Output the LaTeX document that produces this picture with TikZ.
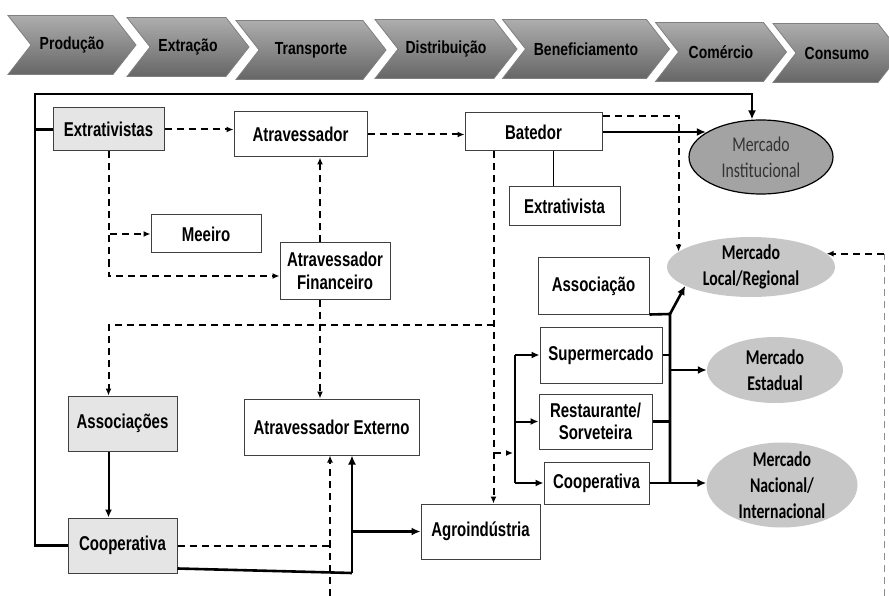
\documentclass[tikz,border=0pt]{standalone}
\usepackage{fontspec}
\setmainfont{Liberation Sans}[FakeStretch=0.75]
\newfontfamily\stagefont{Liberation Sans}[FakeStretch=0.8]
\newfontfamily\ellfont{Carlito}[FakeStretch=0.75]
\usepackage{tikz}
\usetikzlibrary{shapes.geometric,shapes.symbols,arrows.meta}

\begin{document}
\begin{tikzpicture}[
    x=1pt, y=-1pt,
    >={Latex[length=9pt,width=8pt]},
    stagebox/.style={signal, signal to=east, signal from=west, signal pointer angle=104,
      draw=black!50, line width=0.8pt, top color=black!32, bottom color=black!60,
      minimum height=59pt, inner sep=0pt, font=\stagefont\bfseries\fontsize{17.5}{19}\selectfont},
    box/.style={draw=black!75, line width=1pt, fill=white, inner sep=0pt, align=center,
      font=\bfseries\fontsize{20}{22.5}\selectfont},
    greybox/.style={box, fill=gray!20},
    mkt/.style={ellipse, fill=black!22, inner sep=0pt},
    instmkt/.style={ellipse, draw=black, line width=1.2pt, fill=black!36, inner sep=0pt},
    mkttext/.style={align=center, font=\ellfont\bfseries\fontsize{21}{26}\selectfont},
    insttext/.style={align=center, text=black!80, font=\ellfont\fontsize{21}{26}\selectfont},
    mainline/.style={line width=2.6pt},
    midline/.style={line width=2pt, >={Latex[length=8pt,width=7pt]}},
    thinline/.style={line width=1pt},
    dashline/.style={line width=2pt, dash pattern=on 7pt off 5pt, >={Latex[length=7pt,width=6pt]}},
  ]
  \useasboundingbox (0,0) rectangle (889,596);
  \clip (0,0) rectangle (889,596);

  \node[stagebox, minimum width=128pt] (prod) at (72,45) {Produção};
  \node[stagebox, minimum width=122pt] (extrac) at (188,47) {Extração};
  \node[stagebox, minimum width=150pt] (transp) at (311,50) {Transporte};
  \node[stagebox, minimum width=142pt] (distr) at (446,49) {Distribuição};
  \node[stagebox, minimum width=167pt] (benef) at (586,49) {Beneficiamento};
  \node[stagebox, minimum width=131pt] (comerc) at (721,52) {Comércio};
  \node[stagebox, minimum width=128pt] (consumo) at (837,53) {Consumo};

  \node[greybox, minimum width=111pt, minimum height=43pt] (extr) at (108.5,129.5) {Extrativistas};
  \node[box, minimum width=133pt, minimum height=45pt] (atrav) at (300.5,134.5) {Atravessador};
  \node[box, minimum width=110pt, minimum height=38pt] (meeiro) at (206,234) {Meeiro};
  \node[box, minimum width=110pt, minimum height=56pt] (atrfin) at (335,271) {Atravessador\\Financeiro};
  \node[box, minimum width=137pt, minimum height=38pt] (batedor) at (533.5,132) {Batedor};
  \node[box, minimum width=111pt, minimum height=39pt] (extrta) at (564.5,206.5) {Extrativista};
  \node[greybox, minimum width=109pt, minimum height=55pt] (assocs) at (122.5,423.5) {Associações};
  \node[greybox, minimum width=109pt, minimum height=55pt] (coopl) at (122.5,545.5) {Cooperativa};
  \node[box, minimum width=175pt, minimum height=56pt] (atrext) at (331.5,427) {Atravessador Externo};
  \node[box, minimum width=119pt, minimum height=55pt] (agro) at (480.5,531.5) {Agroindústria};
  \node[box, minimum width=111pt, minimum height=56pt] (assoc) at (593.5,286) {Associação};
  \node[box, minimum width=122pt, minimum height=56pt] (super) at (601,355) {Supermercado};
  \node[box, minimum width=113pt, minimum height=55pt] (rest) at (595.5,421.5) {Restaurante/\\Sorveteira};
  \node[box, minimum width=105pt, minimum height=42pt] (coopr) at (596.5,483) {Cooperativa};

  \node[instmkt, minimum width=144pt, minimum height=74pt,
    label={[insttext]center:{Mercado\\Institucional}}] (merinst) at (761,157) {};
  \node[mkt, minimum width=168pt, minimum height=60pt,
    label={[mkttext]center:{Mercado\\Local/Regional}}] (merloc) at (751,267) {};
  \node[mkt, minimum width=136pt, minimum height=66pt,
    label={[mkttext]center:{Mercado\\Estadual}}] (merest) at (775,370) {};
  \node[mkt, minimum width=151pt, minimum height=85pt,
    label={[mkttext]center:{Mercado\\Nacional/\\Internacional}}] (mernac) at (782,485) {};

  \coordinate (tl) at (35,94);
  \draw[mainline] (extr.west) -- (extr.west -| tl);
  \draw[mainline,->] (coopl.west) -| (tl) -| ([xshift=-9pt]merinst.north);

  \draw[dashline,->] (extr.east) -- (extr.east -| atrav.west);
  \draw[dashline,->] (extr.south) |- (meeiro.west);
  \draw[dashline,->] (extr.south) |- ([yshift=-5pt]atrfin.west);
  \draw[dashline,->] ([xshift=-15pt]atrfin.north) -- ([xshift=-15pt]atrfin.north |- atrav.south);
  \draw[dashline,->] ([xshift=-15pt]atrfin.south) -- ([xshift=-15pt]atrfin.south |- atrext.north);
  \draw[dashline,->] (atrav.east) -- (atrav.east -| batedor.west);
  \draw[mainline,->] (batedor.east) -- (batedor.east -| merinst.156);
  \draw[dashline,->] ([yshift=-4pt]batedor.north east) -| (merloc.168);
  \draw[thinline] ([xshift=20pt]batedor.south) -- ([xshift=20pt]batedor.south |- extrta.north);

  \coordinate (bd) at ([xshift=-40pt]batedor.south);
  \coordinate (dashrow) at (0,325);
  \draw[dashline,->] (bd) -- (bd |- agro.north);
  \draw[dashline,->] (bd |- dashrow) -- (extr.south |- dashrow) -- (extr.south |- assocs.north);
  \draw[midline,->] (extr.south |- assocs.south) -- (extr.south |- coopl.north);

  \coordinate (brk) at (515,453);
  \draw[dashline,->] (bd |- brk) -- ([xshift=-2pt]brk);
  \draw[midline] (brk |- super.west) -- (brk |- coopr.west);
  \foreach \n in {super,rest,coopr}
    \draw[midline,->] (brk |- \n.west) -- (\n.west);

  \coordinate (col) at (670,314);
  \draw[mainline] (assoc.south east) -- (col) -- (col |- coopr.east);
  \draw[mainline,->] (col) -- (merloc.196);
  \draw[mainline] (super.east) -- (super.east -| col);
  \draw[mainline] (rest.east) -- (rest.east -| col);
  \draw[mainline,->] (coopr.east) -- (coopr.east -| mernac.west);
  \draw[mainline,->] (col |- merest.west) -- (merest.west);

  \coordinate (cj) at (352,573);
  \draw[mainline] ([yshift=-23pt]coopl.east) -- (cj);
  \draw[mainline,->] (cj) -- (cj |- atrext.south);
  \draw[mainline,->] (cj |- agro.west) -- (agro.west);
  \coordinate (bot) at (330,596);
  \draw[dashline] (coopl.east) -- (coopl.east -| bot) -- ++(0,-6);
  \draw[dashline,->] (bot) -- (bot |- atrext.south);

  \coordinate (rb) at (884,596);
  \draw[dashline, draw=black!45, line width=1pt] (rb) -- (rb |- merloc.10);
  \draw[dashline,->] (rb |- merloc.10) -- (merloc.10);
\end{tikzpicture}
\end{document}
